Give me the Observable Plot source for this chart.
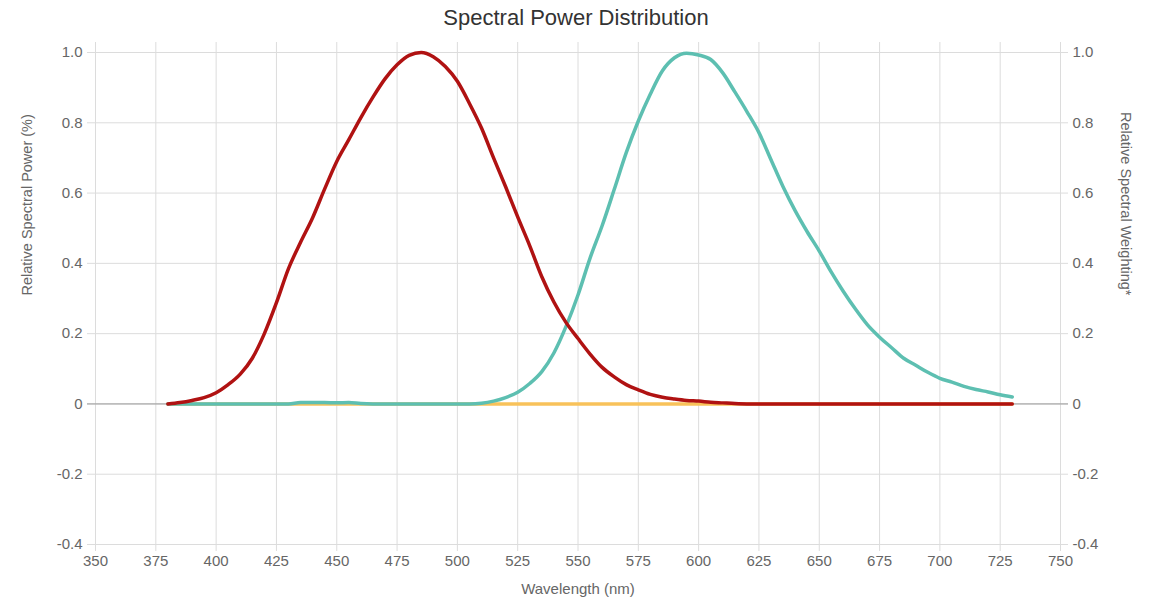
<!DOCTYPE html>
<html><head><meta charset="utf-8">
<script src="https://cdn.jsdelivr.net/npm/d3@7"></script>
<script src="https://cdn.jsdelivr.net/npm/@observablehq/plot@0.6"></script>
<style>
body{margin:0;background:#fff;font-family:"Liberation Sans",Arial,sans-serif;}
#title{height:40px;box-sizing:border-box;padding-top:7px;font-size:22px;line-height:22px;text-align:center;color:#333;}
</style></head><body>
<div id="title">Spectral Power Distribution</div>
<div id="chart"></div>
<script>
const wavelengths = [380,385,390,395,400,405,410,415,420,425,430,435,440,445,450,455,460,465,470,475,480,485,490,495,500,505,510,515,520,525,530,535,540,545,550,555,560,565,570,575,580,585,590,595,600,605,610,615,620,625,630,635,640,645,650,655,660,665,670,675,680,685,690,695,700,705,710,715,720,725,730];
const relativePower = [0,0.004,0.010,0.018,0.032,0.055,0.085,0.130,0.200,0.288,0.385,0.460,0.530,0.612,0.690,0.752,0.815,0.873,0.925,0.965,0.992,1.000,0.988,0.960,0.918,0.855,0.785,0.700,0.618,0.532,0.450,0.362,0.290,0.232,0.186,0.142,0.104,0.077,0.055,0.040,0.027,0.019,0.014,0.010,0.008,0.005,0.003,0.001,0,0,0,0,0,0,0,0,0,0,0,0,0,0,0,0,0,0,0,0,0,0,0];
const relativeWeighting = [0,0,0,0,0,0,0,0,0,0,0,0.004,0.004,0.004,0.003,0.004,0.001,0,0,0,0,0,0,0,0,0,0.002,0.008,0.018,0.033,0.058,0.092,0.145,0.220,0.310,0.415,0.507,0.610,0.715,0.805,0.882,0.948,0.985,0.998,0.993,0.980,0.942,0.888,0.832,0.772,0.695,0.618,0.550,0.490,0.435,0.375,0.320,0.270,0.225,0.190,0.160,0.130,0.110,0.090,0.073,0.062,0.050,0.041,0.034,0.026,0.020];
const thirdSeries = [0,0,0,0,0,0,0,0,0,0,0,0,0,0,0,0,0,0,0,0,0,0,0,0,0,0,0,0,0,0,0,0,0,0,0,0,0,0,0,0,0,0,0,0,0,0,0,0,0,0,0,0,0,0,0,0,0,0,0,0,0,0,0,0,0,0,0,0,0,0,0];
const xTicks = [350,375,400,425,450,475,500,525,550,575,600,625,650,675,700,725,750];
const yTicks = [-0.4,-0.2,0,0.2,0.4,0.6,0.8,1.0];
const titles = {x:"Wavelength (nm)", yLeft:"Relative Spectral Power (%)", yRight:"Relative Spectral Weighting*"};

const table = wavelengths.map((w,i)=>({w, p:relativePower[i], r:relativeWeighting[i], t:thirdSeries[i]}));
const fmt = d => d === 0 ? "0" : d.toFixed(1);
const font = "'Liberation Sans', Arial, sans-serif";

const chart = Plot.plot({
  width:1152, height:560,
  marginTop:12, marginBottom:56, marginLeft:95, marginRight:92,
  x:{domain:[350,750]},
  y:{domain:[-0.4,1.0]},
  style:{fontFamily:font, fontSize:"15px", background:"#fff"},
  marks:[
    Plot.ruleX(xTicks,{stroke:"#dcdcdc", insetTop:-10, insetBottom:-7}),
    Plot.ruleY(yTicks,{stroke:"#dcdcdc", insetLeft:-8, insetRight:-8}),
    Plot.ruleY([0],{stroke:"#9a9a9a", insetLeft:-8, insetRight:-8}),
    Plot.axisX(xTicks,{tickSize:0, tickPadding:11, fill:"#666", fontSize:15, label:null}),
    Plot.axisY(yTicks,{anchor:"left", tickSize:0, tickPadding:13, tickFormat:fmt, fill:"#666", fontSize:15, label:null}),
    Plot.axisY(yTicks,{anchor:"right", tickSize:0, tickPadding:12, tickFormat:fmt, fill:"#666", fontSize:15, label:null}),
    Plot.line(table,{x:"w", y:"t", stroke:"#f8c25a", strokeWidth:3.5}),
    Plot.line(table,{x:"w", y:"r", stroke:"#5dbfb1", strokeWidth:3.5, curve:"monotone-x", strokeLinejoin:"round"}),
    Plot.line(table,{x:"w", y:"p", stroke:"#b01212", strokeWidth:3.5, curve:"monotone-x", strokeLinejoin:"round"}),
    Plot.text([titles.yLeft],{text:d=>d, frameAnchor:"left", dx:-68, dy:-3, rotate:-90, fill:"#666", fontSize:14.5, lineAnchor:"middle"}),
    Plot.text([titles.yRight],{text:d=>d, frameAnchor:"right", dx:65, dy:-3, rotate:90, fill:"#666", fontSize:14.5, lineAnchor:"middle"}),
    Plot.text([titles.x],{text:d=>d, frameAnchor:"bottom", dy:45, fill:"#666", fontSize:15, lineAnchor:"middle"})
  ]
});
document.getElementById("chart").appendChild(chart);
</script>
</body></html>
